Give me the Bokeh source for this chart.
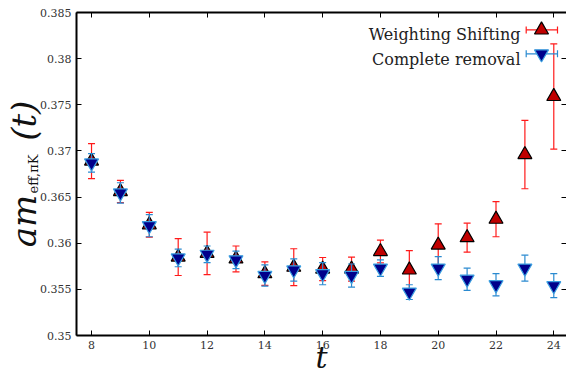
import math
from bokeh.plotting import figure
from bokeh.models import Label, LinearAxis, FixedTicker, ColumnDataSource
from bokeh.embed import file_html
from bokeh.resources import INLINE

# ---------------- data ----------------
t_vals = [8, 9, 10, 11, 12, 13, 14, 15, 16, 17, 18, 19, 20, 21, 22, 23, 24]

ws_val = [0.3689, 0.3656, 0.3620, 0.3585, 0.3589, 0.3583, 0.3567, 0.3574, 0.3572,
          0.3572, 0.3591, 0.3571, 0.3598, 0.3606, 0.3626, 0.3696, 0.3759]
ws_err = [0.0019, 0.0012, 0.00135, 0.0020, 0.0023, 0.0014, 0.00127, 0.0020, 0.00125,
          0.0013, 0.00124, 0.0021, 0.0023, 0.00157, 0.0019, 0.0037, 0.0057]

cr_val = [0.3687, 0.36545, 0.3619, 0.3584, 0.3588, 0.3582, 0.3565, 0.3571, 0.3567,
          0.3565, 0.3573, 0.3547, 0.3573, 0.3561, 0.3555, 0.3573, 0.3554]
cr_err = [0.0010, 0.0011, 0.0012, 0.00095, 0.0009, 0.00095, 0.00115, 0.0012, 0.0012,
          0.00125, 0.0009, 0.0008, 0.00125, 0.0012, 0.0012, 0.0014, 0.0013]

series_names = ["Weighting Shifting", "Complete removal"]

x_ticks = [8, 10, 12, 14, 16, 18, 20, 22, 24]
x_tick_labels = ["8", "10", "12", "14", "16", "18", "20", "22", "24"]
y_ticks = [0.35, 0.355, 0.36, 0.365, 0.37, 0.375, 0.38, 0.385]
y_tick_labels = ["0.35", "0.355", "0.36", "0.365", "0.37", "0.375", "0.38", "0.385"]

x_title = "t"
y_title_main = "am" + "\u00a0" * 5 + "(t)"   # gap keeps room for the subscript
y_title_sub = "eff,πK"

# ---------------- layout (page pixels) ----------------
W, H = 566, 377
FL, FR, FT, FB = 76, 566, 12, 336   # frame in page pixels
X0, X1 = 7.48, 24.44
Y0, Y1 = 0.35, 0.385


def dx(px):
    return X0 + (px - FL) * (X1 - X0) / (FR - FL)


def dy(py):
    return Y1 - (py - FT) * (Y1 - Y0) / (FB - FT)


def sx(px):  # Label screen units: relative to frame bottom-left
    return px - FL


def sy(py):
    return FB - py


SERIF = "DejaVu Serif"
RED_FILL = "#c00000"
RED_BAR = "#ff1a1a"
BLUE_FILL = "#00008b"
BLUE_EDGE = "#3a9ee0"
BLUE_BAR = "#2a8ad0"
MSIZE = 14
CAP = 7

p = figure(width=W, height=H, x_range=(X0, X1), y_range=(Y0, Y1),
           output_backend="svg", toolbar_location=None,
           min_border_left=FL, min_border_right=W - FR,
           min_border_top=FT, min_border_bottom=H - FB,
           outline_line_color=None, background_fill_color="white",
           border_fill_color="white")
p.xgrid.visible = False
p.ygrid.visible = False

# bottom axis (+ x title)
xa = p.xaxis[0]
xa.ticker = FixedTicker(ticks=x_ticks)
xa.major_label_overrides = {k: v for k, v in zip(x_ticks, x_tick_labels)}
xa.major_tick_in = 5
xa.major_tick_out = 0
xa.minor_tick_line_color = None
xa.axis_line_width = 2
xa.axis_line_color = "black"
xa.major_tick_line_color = "black"
xa.major_label_text_font = SERIF
xa.major_label_text_font_size = "11px"
xa.major_label_text_color = "#333333"
xa.major_label_standoff = 5
xa.axis_label = x_title
xa.axis_label_text_font = SERIF
xa.axis_label_text_font_style = "italic"
xa.axis_label_text_font_size = "30px"
xa.axis_label_text_color = "#111111"
xa.axis_label_standoff = -12

# left axis (+ subscript part of y title)
ya = p.yaxis[0]
ya.ticker = FixedTicker(ticks=y_ticks)
ya.major_label_overrides = {k: v for k, v in zip(y_ticks, y_tick_labels)}
ya.major_tick_in = 5
ya.major_tick_out = 0
ya.minor_tick_line_color = None
ya.axis_line_width = 2
ya.axis_line_color = "black"
ya.major_tick_line_color = "black"
ya.major_label_text_font = SERIF
ya.major_label_text_font_size = "11px"
ya.major_label_text_color = "#333333"
ya.major_label_standoff = 5
ya.axis_label = y_title_sub
ya.axis_label_text_font = SERIF
ya.axis_label_text_font_style = "normal"
ya.axis_label_text_font_size = "13px"
ya.axis_label_text_color = "#111111"
ya.axis_label_standoff = -4

# second left axis: only carries the main part of the y title
ya2 = LinearAxis(ticker=FixedTicker(ticks=[]), major_tick_in=0, major_tick_out=0,
                 minor_tick_in=0, minor_tick_out=0, minor_tick_line_color=None,
                 axis_line_color=None, major_label_standoff=0,
                 axis_label=y_title_main, axis_label_text_font=SERIF,
                 axis_label_text_font_style="italic", axis_label_text_font_size="34px",
                 axis_label_text_color="#111111", axis_label_standoff=-20)
p.add_layout(ya2, "left")

# top axis (ticks only)
ta = LinearAxis(ticker=FixedTicker(ticks=x_ticks), major_tick_in=5, major_tick_out=0,
                minor_tick_line_color=None, axis_line_width=2, axis_line_color="black",
                major_label_text_font_size="1px", major_label_text_color=None,
                major_label_standoff=0, major_tick_line_color="black")
p.add_layout(ta, "above")

# right axis (ticks only)
ra = LinearAxis(ticker=FixedTicker(ticks=y_ticks), major_tick_in=5, major_tick_out=0,
                minor_tick_line_color=None, axis_line_color=None,
                major_label_text_font_size="1px", major_label_text_color=None,
                major_label_standoff=0, major_tick_line_color="black")
p.add_layout(ra, "right")

# ---------------- data marks ----------------
ws_src = ColumnDataSource(dict(t=t_vals, v=ws_val,
                               lo=[v - e for v, e in zip(ws_val, ws_err)],
                               hi=[v + e for v, e in zip(ws_val, ws_err)]))
cr_src = ColumnDataSource(dict(t=t_vals, v=cr_val,
                               lo=[v - e for v, e in zip(cr_val, cr_err)],
                               hi=[v + e for v, e in zip(cr_val, cr_err)]))

p.segment(x0="t", y0="lo", x1="t", y1="hi", source=ws_src, line_color=RED_BAR, line_width=1.2)
p.scatter(x="t", y="lo", source=ws_src, marker="dash", size=CAP, line_color=RED_BAR, line_width=1.2)
p.scatter(x="t", y="hi", source=ws_src, marker="dash", size=CAP, line_color=RED_BAR, line_width=1.2)
p.scatter(x="t", y="v", source=ws_src, marker="triangle", size=MSIZE,
          fill_color=RED_FILL, line_color="black", line_width=1.2)

p.segment(x0="t", y0="lo", x1="t", y1="hi", source=cr_src, line_color=BLUE_BAR, line_width=1.2)
p.scatter(x="t", y="lo", source=cr_src, marker="dash", size=CAP, line_color=BLUE_BAR, line_width=1.2)
p.scatter(x="t", y="hi", source=cr_src, marker="dash", size=CAP, line_color=BLUE_BAR, line_width=1.2)
p.scatter(x="t", y="v", source=cr_src, marker="inverted_triangle", size=MSIZE,
          fill_color=BLUE_FILL, line_color=BLUE_EDGE, line_width=1.2)

# ---------------- legend (manual: text left of sample) ----------------
leg_rows = [29.5, 53.5]
leg_text_base = [35, 59.5]
leg_bar = (525.7, 557.0)
leg_mark_x = 541
leg_styles = [
    dict(bar=RED_BAR, marker="triangle", fill=RED_FILL, edge="black"),
    dict(bar=BLUE_BAR, marker="inverted_triangle", fill=BLUE_FILL, edge=BLUE_EDGE),
]
for name, ry, tb, st in zip(series_names, leg_rows, leg_text_base, leg_styles):
    p.add_layout(Label(x=sx(520), y=sy(tb), x_units="screen", y_units="screen",
                       text=name, text_font=SERIF,
                       text_font_size="16px", text_color="#222222",
                       text_align="right", text_baseline="alphabetic"))
    p.segment(x0=[dx(leg_bar[0])], y0=[dy(ry)], x1=[dx(leg_bar[1])], y1=[dy(ry)],
              line_color=st["bar"], line_width=1.2)
    p.scatter(x=[dx(leg_bar[0]), dx(leg_bar[1])], y=[dy(ry), dy(ry)], marker="dash",
              angle=math.pi / 2, size=CAP, line_color=st["bar"], line_width=1.2)
    p.scatter(x=[dx(leg_mark_x)], y=[dy(ry)], marker=st["marker"], size=MSIZE,
              fill_color=st["fill"], line_color=st["edge"], line_width=1.2)

open("out.html", "w").write(file_html(p, INLINE))
